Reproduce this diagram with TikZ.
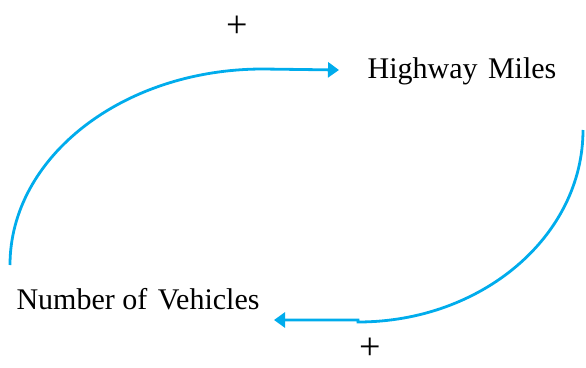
\documentclass[tikz,border=0pt]{standalone}
\usepackage{fontspec}
\setmainfont{Liberation Serif}
\usetikzlibrary{arrows.meta}
\definecolor{linkblue}{RGB}{0,172,236}
\tikzset{
  lbl/.style={font=\fontsize{30}{32}\selectfont, inner sep=0pt},
  sign/.style={font=\fontsize{38}{40}\selectfont, inner sep=0pt},
  link/.style={draw=linkblue, line width=2.8pt, -{Triangle[length=11pt,width=15pt]}}
}
\begin{document}
\begin{tikzpicture}[x=1pt,y=-1pt]
\useasboundingbox (0,0) rectangle (586,367);
\node[lbl] (hm) at (462,71) {Highway\hspace{3pt} Miles};
\node[lbl] (nv) at (138,299) {Number of\hspace{3pt} Vehicles};
\node[sign] (p1) at (237,27) {+};
\node[sign] (p2) at (370,349) {+};
\coordinate (s1) at (10,265);
\coordinate (m1) at (263,69);
\coordinate (e1) at (339,70);
\coordinate (s2) at (583,130);
\coordinate (m2) at (358,322);
\coordinate (e2) at (274,320);
\draw[link] (s1) .. controls (10,157) and (123,69) .. (m1) -- (e1);
\draw[link] (s2) .. controls (583,236) and (482,322) .. (m2) -- (358,320) -- (e2);
\end{tikzpicture}
\end{document}
